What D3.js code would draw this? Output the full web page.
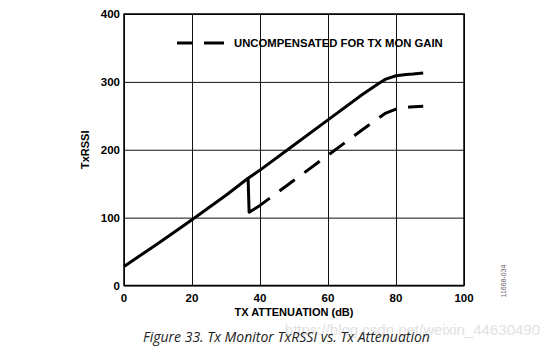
<!DOCTYPE html>
<html>
<head>
<meta charset="utf-8">
<script src="https://cdn.jsdelivr.net/npm/d3@7"></script>
<style>
  body { margin: 0; background: #fff; }
  svg { display: block; }
</style>
</head>
<body>
<svg id="chart" width="554" height="351"></svg>
<script>
// TX attenuation (dB) vs TxRSSI
const compensated = [
  [0, 28], [10, 62], [20, 97], [30, 133], [36.5, 158], [40, 170], [50, 207],
  [60, 244], [70, 281], [75, 298], [77, 304], [80, 309], [83, 311], [85, 311.5], [88, 313]
]
const uncompensated = [
  [36.5, 158], [36.8, 108], [40, 118], [50, 155], [60, 192], [70, 229],
  [75, 247], [77, 254], [80, 260], [84, 263], [88, 264]
]
const xTicks = [0, 20, 40, 60, 80, 100]
const yTicks = [0, 100, 200, 300, 400]
const legendLabel = "UNCOMPENSATED FOR TX MON GAIN"
const xTitle = "TX ATTENUATION (dB)"
const yTitle = "TxRSSI"
const caption = "Figure 33. Tx Monitor TxRSSI vs. Tx Attenuation"
const figId = "11668-034"
const watermark = "https://blog.csdn.net/weixin_44630490"

const svg = d3.select("#chart")
const m = {left: 124, right: 464, top: 14, bottom: 285.5}

const x = d3.scaleLinear().domain([0, 100]).range([m.left, m.right])
const y = d3.scaleLinear().domain([0, 400]).range([m.bottom, m.top])

const font = "'Liberation Sans', Arial, sans-serif"

// watermark (faint, behind the caption)
svg.append("text")
  .attr("x", 540).attr("y", 335)
  .attr("text-anchor", "end")
  .attr("font-family", font).attr("font-size", 15)
  .attr("fill", "#e2e2e2")
  .text(watermark)

// grid
svg.append("g")
  .attr("transform", `translate(0,${m.bottom})`)
  .call(d3.axisBottom(x).tickValues(xTicks).tickSize(-(m.bottom - m.top)).tickFormat(""))
  .call(g => g.select(".domain").remove())
  .call(g => g.selectAll("line").attr("stroke", "#111").attr("stroke-width", 1))

svg.append("g")
  .attr("transform", `translate(${m.left},0)`)
  .call(d3.axisLeft(y).tickValues(yTicks).tickSize(-(m.right - m.left)).tickFormat(""))
  .call(g => g.select(".domain").remove())
  .call(g => g.selectAll("line").attr("stroke", "#111").attr("stroke-width", 1))

// frame
svg.append("rect")
  .attr("x", m.left).attr("y", m.top)
  .attr("width", m.right - m.left).attr("height", m.bottom - m.top)
  .attr("fill", "none").attr("stroke", "#000").attr("stroke-width", 1.5)

// tick labels
svg.append("g").selectAll("text").data(xTicks).join("text")
  .attr("x", d => x(d)).attr("y", m.bottom + 16)
  .attr("text-anchor", "middle")
  .attr("font-family", font).attr("font-weight", "bold").attr("font-size", 11.5)
  .text(d => d)

svg.append("g").selectAll("text").data(yTicks).join("text")
  .attr("x", m.left - 4).attr("y", d => y(d) + 4)
  .attr("text-anchor", "end")
  .attr("font-family", font).attr("font-weight", "bold").attr("font-size", 11.5)
  .text(d => d)

// axis titles
svg.append("text")
  .attr("x", (m.left + m.right) / 2).attr("y", 316)
  .attr("text-anchor", "middle")
  .attr("font-family", font).attr("font-weight", "bold").attr("font-size", 11)
  .text(xTitle)

svg.append("text")
  .attr("transform", `translate(89,${(m.top + m.bottom) / 2}) rotate(-90)`)
  .attr("text-anchor", "middle")
  .attr("font-family", font).attr("font-weight", "bold").attr("font-size", 11)
  .text(yTitle)

// series
let line = d3.line().x(d => x(d[0])).y(d => y(d[1]))

svg.append("path")
  .datum(compensated)
  .attr("d", line)
  .attr("fill", "none").attr("stroke", "#000").attr("stroke-width", 3)
  .attr("stroke-linejoin", "round")

let dashes = [59, 12]
for (let i = 0; i < 12; i++) dashes.push(19, 12)
svg.append("path")
  .datum(uncompensated)
  .attr("d", line)
  .attr("fill", "none").attr("stroke", "#000").attr("stroke-width", 3)
  .attr("stroke-linejoin", "round")
  .attr("stroke-dasharray", dashes.join(","))

// legend
svg.append("line")
  .attr("x1", 177).attr("x2", 224).attr("y1", 43).attr("y2", 43)
  .attr("stroke", "#000").attr("stroke-width", 3)
  .attr("stroke-dasharray", "15,12,20")

svg.append("text")
  .attr("x", 234).attr("y", 47)
  .attr("font-family", font).attr("font-weight", "bold").attr("font-size", 11.3)
  .text(legendLabel)

// figure id
svg.append("text")
  .attr("transform", `translate(506,281) rotate(-90)`)
  .attr("text-anchor", "middle")
  .attr("font-family", font).attr("font-size", 7).attr("fill", "#666")
  .text(figId)

// caption
svg.append("text")
  .attr("x", 143).attr("y", 342)
  .attr("font-family", "'Open Sans', 'Noto Sans', sans-serif").attr("font-style", "italic")
  .attr("font-size", 14).attr("fill", "#222")
  .text(caption)
</script>
</body>
</html>
